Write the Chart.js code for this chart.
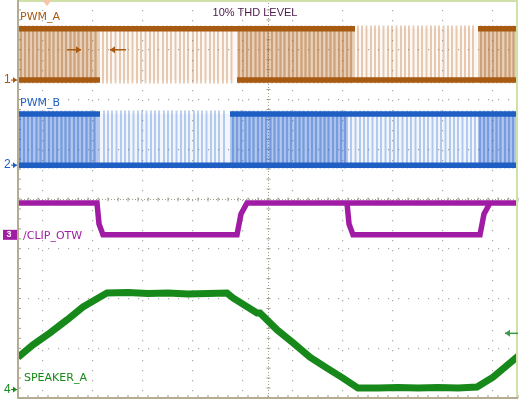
<!DOCTYPE html>
<html>
<head>
<meta charset="utf-8">
<script src="https://cdn.jsdelivr.net/npm/chart.js@4/dist/chart.umd.min.js"></script>
<style>
  html, body { margin: 0; padding: 0; background: #fff; }
  #wrap { width: 519px; height: 402px; }
</style>
</head>
<body>
<div id="wrap"><canvas id="scope"></canvas></div>
<script>
// screen is 10 x 8 divisions, all values below are in divisions

// PWM_A (ch1)
var pwmA_low = 6.39, pwmA_high = 7.42;
var pwmA_dense = [[0, 1.64], [4.38, 6.74], [9.2, 10]];
var pwmA_light = [[1.64, 4.38], [6.74, 9.2]];
var pwmA_highLine = [[0, 6.74], [9.2, 10]];
var pwmA_lowLine = [[0, 1.64], [4.38, 10]];
var pwmA_pulses = [1.7, 1.78, 1.86, 1.95, 2.04, 2.12, 2.2, 2.29, 2.38, 2.46, 2.55, 2.64, 2.72, 2.8, 2.9, 2.98, 3.06, 3.15, 3.24, 3.32, 3.4, 3.5, 3.58, 3.66, 3.75, 3.84, 3.92, 4.0, 4.1, 4.18, 4.27,
  6.8, 6.88, 6.97, 7.06, 7.14, 7.22, 7.31, 7.4, 7.48, 7.57, 7.66, 7.74, 7.82, 7.91, 8.0, 8.08, 8.17, 8.26, 8.34, 8.42, 8.51, 8.6, 8.68, 8.77, 8.86, 8.94, 9.02, 9.1];
var pwmA_densePulses = [0.06, 0.14, 0.22, 0.3, 0.38, 0.46, 0.55, 0.63, 0.71, 0.8, 0.88, 0.96, 1.05, 1.13, 1.21, 1.3, 1.38, 1.46, 1.55,
  4.42, 4.5, 4.58, 4.66, 4.75, 4.83, 4.92, 5.0, 5.08, 5.17, 5.25, 5.33, 5.42, 5.5, 5.58, 5.67, 5.75, 5.83, 5.92, 6.0, 6.08, 6.17, 6.25, 6.33, 6.42, 6.5, 6.58, 6.66,
  9.26, 9.34, 9.42, 9.5, 9.58, 9.66, 9.75, 9.83, 9.91];

// PWM_B (ch2)
var pwmB_low = 4.68, pwmB_high = 5.71;
var pwmB_dense = [[0, 1.64], [4.24, 6.6], [9.2, 10]];
var pwmB_light = [[1.64, 4.24], [6.6, 9.2]];
var pwmB_highLine = [[0, 1.64], [4.24, 10]];
var pwmB_lowLine = [[0, 10]];
var pwmB_pulses = [1.72, 1.8, 1.88, 1.97, 2.06, 2.14, 2.22, 2.31, 2.4, 2.48, 2.57, 2.66, 2.74, 2.82, 2.92, 3.0, 3.08, 3.17, 3.26, 3.34, 3.42, 3.52, 3.6, 3.68, 3.77, 3.86, 3.94, 4.02, 4.12,
  6.66, 6.75, 6.84, 6.92, 7.0, 7.09, 7.18, 7.26, 7.35, 7.44, 7.52, 7.6, 7.69, 7.78, 7.86, 7.95, 8.04, 8.12, 8.2, 8.29, 8.38, 8.46, 8.55, 8.64, 8.72, 8.8, 8.89, 8.98, 9.06, 9.14];
var pwmB_densePulses = [0.04, 0.12, 0.2, 0.28, 0.37, 0.45, 0.53, 0.62, 0.7, 0.78, 0.87, 0.95, 1.03, 1.12, 1.2, 1.28, 1.37, 1.45, 1.53,
  4.3, 4.38, 4.46, 4.55, 4.63, 4.71, 4.8, 4.88, 4.96, 5.05, 5.13, 5.21, 5.3, 5.38, 5.46, 5.55, 5.63, 5.71, 5.8, 5.88, 5.96, 6.05, 6.13, 6.21, 6.3, 6.38, 6.46, 6.54,
  9.24, 9.32, 9.4, 9.49, 9.57, 9.65, 9.74, 9.82, 9.9];

// /CLIP_OTW (ch3)
var clipX = [0, 1.58, 1.62, 1.70, 4.38, 4.46, 4.58, 10];
var clipY = [3.92, 3.92, 3.5, 3.28, 3.28, 3.7, 3.92, 3.92];
var clipX2 = [6.58, 6.62, 6.70, 9.24, 9.32, 9.44];
var clipY2 = [3.92, 3.5, 3.28, 3.28, 3.7, 3.92];

// SPEAKER_A (ch4)
var spkX = [0, 0.3, 0.64, 0.98, 1.3, 1.64, 1.78, 2.2, 2.6, 3.0, 3.4, 3.8, 4.18, 4.3, 4.78, 4.84, 5.18, 5.5, 5.84, 6.18, 6.5, 6.8, 7.2, 7.6, 8.0, 8.4, 8.8, 9.18, 9.5, 10];
var spkY = [0.82, 1.07, 1.31, 1.57, 1.83, 2.03, 2.11, 2.12, 2.1, 2.11, 2.09, 2.1, 2.11, 2.01, 1.71, 1.71, 1.37, 1.11, 0.82, 0.6, 0.4, 0.2, 0.2, 0.21, 0.2, 0.21, 0.2, 0.22, 0.42, 0.84];

// channel ground markers
var markerLevels = [6.39, 4.68, 3.28, 0.17];
var markerText = ['1', '2', '3', '4'];

var colA = '#a65a12', colB = '#1f5fc4', colC = '#a01ca4', colD = '#17891a';

function pts(xs, ys) { return xs.map(function (x, i) { return { x: x, y: ys[i] }; }); }

function segLine(segs, level) {
  var out = [];
  segs.forEach(function (s, i) {
    if (i > 0) out.push({ x: s[0], y: null });
    out.push({ x: s[0], y: level }, { x: s[1], y: level });
  });
  return out;
}

function fillSets(segs, low, high, color) {
  return segs.map(function (s) {
    return { type: 'line', data: [{ x: s[0], y: high }, { x: s[1], y: high }], borderWidth: 0,
      pointRadius: 0, fill: { value: low }, backgroundColor: color, order: 5 };
  });
}

function pulseSet(xs, low, high, color, w) {
  return { type: 'bar', data: xs.map(function (x) { return { x: x, y: [low - 0.06, high + 0.06] }; }),
    backgroundColor: color, barThickness: w, grouped: false, order: 4 };
}

function thick(data, color, w) {
  return { type: 'line', data: data, borderColor: color, borderWidth: w, pointRadius: 0,
    fill: false, spanGaps: false, tension: 0, order: 1 };
}

var datasets = []
  .concat(fillSets(pwmA_dense, pwmA_low, pwmA_high, 'rgba(185,115,45,0.32)'))
  .concat(fillSets(pwmA_light, pwmA_low, pwmA_high, 'rgba(225,165,110,0.08)'))
  .concat(fillSets(pwmB_dense, pwmB_low, pwmB_high, 'rgba(40,100,205,0.36)'))
  .concat(fillSets(pwmB_light, pwmB_low, pwmB_high, 'rgba(90,140,220,0.08)'))
  .concat([
    pulseSet(pwmA_densePulses, pwmA_low, pwmA_high, 'rgba(165,90,25,0.4)', 1.6),
    pulseSet(pwmB_densePulses, pwmB_low, pwmB_high, 'rgba(30,90,200,0.4)', 1.6),
    pulseSet(pwmA_pulses, pwmA_low, pwmA_high, 'rgba(185,110,45,0.35)', 1.3),
    pulseSet(pwmB_pulses, pwmB_low, pwmB_high, 'rgba(55,115,210,0.35)', 1.3),
    thick(segLine(pwmA_highLine, pwmA_high), colA, 5.5),
    thick(segLine(pwmA_lowLine, pwmA_low), colA, 5.5),
    thick(segLine(pwmB_highLine, pwmB_high), colB, 5.5),
    thick(segLine(pwmB_lowLine, pwmB_low), colB, 5.5),
    thick(pts(clipX, clipY), colC, 5.5),
    thick(pts(clipX2, clipY2), colC, 5.5),
    thick(pts(spkX, spkY), colD, 7)
  ]);

var scopeDecor = {
  id: 'scopeDecor',
  beforeDatasetsDraw: function (chart) {
    var c = chart.ctx, xs = chart.scales.x, ys = chart.scales.y, a = chart.chartArea;
    c.save();
    // center cross with minor ticks
    var cx = Math.round(xs.getPixelForValue(5)) + 0.5, cy = Math.round(ys.getPixelForValue(4)) + 0.5;
    c.strokeStyle = '#a0a090';
    c.lineWidth = 1;
    c.setLineDash([1, 2]);
    c.beginPath();
    c.moveTo(cx, a.top); c.lineTo(cx, a.bottom);
    c.moveTo(a.left, cy); c.lineTo(a.right, cy);
    c.stroke();
    c.setLineDash([]);
    c.beginPath();
    for (var i = 0; i <= 50; i++) {
      var px = xs.getPixelForValue(i * 0.2);
      c.moveTo(px, cy - 2); c.lineTo(px, cy + 2);
      c.moveTo(px, a.bottom); c.lineTo(px, a.bottom - 3);
    }
    for (var j = 0; j <= 40; j++) {
      var py = ys.getPixelForValue(j * 0.2);
      c.moveTo(cx - 2, py); c.lineTo(cx + 2, py);
      c.moveTo(a.left, py); c.lineTo(a.left + 3, py);
    }
    c.stroke();
    c.restore();
  },
  afterDraw: function (chart) {
    var c = chart.ctx, xs = chart.scales.x, ys = chart.scales.y, a = chart.chartArea;
    c.save();
    // frame
    c.lineWidth = 2;
    c.strokeStyle = '#cfe0a8';
    c.beginPath();
    c.moveTo(a.left, a.top + 1); c.lineTo(a.right - 1, a.top + 1); c.lineTo(a.right - 1, a.bottom);
    c.stroke();
    c.strokeStyle = '#b4ab90';
    c.beginPath();
    c.moveTo(a.left, a.top); c.lineTo(a.left, a.bottom); c.lineTo(a.right, a.bottom);
    c.stroke();

    // labels
    c.font = '11px "DejaVu Sans", "Liberation Sans", sans-serif';
    c.textBaseline = 'middle';
    c.textAlign = 'left';
    c.fillStyle = colA; c.fillText('PWM_A', 20, 17);
    c.fillStyle = colB; c.fillText('PWM_B', 20, 103);
    c.fillStyle = colC; c.fillText('/CLIP_OTW', 23, 236);
    c.fillStyle = colD; c.fillText('SPEAKER_A', 24, 378);
    c.fillStyle = '#4a1848';
    c.textAlign = 'center';
    c.font = '11px "Liberation Sans", Arial, sans-serif';
    c.fillText('10% THD LEVEL', xs.getPixelForValue(4.74), 13);

    // channel markers on the left
    var mcol = [colA, colB, colC, colD];
    c.font = '12px "Liberation Sans", Arial, sans-serif';
    markerLevels.forEach(function (lv, k) {
      var py = ys.getPixelForValue(lv);
      c.fillStyle = mcol[k];
      c.strokeStyle = mcol[k];
      if (k === 2) {
        c.fillRect(3, py - 5, 14, 10);
        c.fillStyle = '#fff';
        c.textAlign = 'center';
        c.font = 'bold 9px "Liberation Sans", Arial, sans-serif';
        c.fillText('3', 9, py);
        c.font = '12px "Liberation Sans", Arial, sans-serif';
      } else {
        c.textAlign = 'left';
        c.fillText(markerText[k], 4, py);
        c.beginPath();
        c.moveTo(17, py); c.lineTo(13, py - 3); c.lineTo(13, py + 3); c.closePath(); c.fill();
        c.lineWidth = 1;
        c.beginPath(); c.moveTo(11, py); c.lineTo(17, py); c.stroke();
      }
    });

    // arrows
    function arrow(x1, x2, y, col) {
      c.strokeStyle = col; c.fillStyle = col; c.lineWidth = 1.5;
      c.beginPath(); c.moveTo(x1, y); c.lineTo(x2, y); c.stroke();
      var d = x2 > x1 ? -1 : 1;
      c.beginPath(); c.moveTo(x2, y); c.lineTo(x2 + d * 5, y - 3.5); c.lineTo(x2 + d * 5, y + 3.5); c.closePath(); c.fill();
    }
    var ay = ys.getPixelForValue(7.0);
    arrow(xs.getPixelForValue(0.98), xs.getPixelForValue(1.26), ay, colA);
    arrow(xs.getPixelForValue(2.16), xs.getPixelForValue(1.84), ay, colA);
    arrow(a.right, a.right - 13, ys.getPixelForValue(1.3), '#3a9a4a');

    // trigger position marker on top
    var tx = xs.getPixelForValue(0.58);
    c.fillStyle = '#f4c8a8';
    c.beginPath(); c.moveTo(tx - 5, a.top); c.lineTo(tx + 5, a.top); c.lineTo(tx, a.top + 6); c.closePath(); c.fill();
    c.restore();
  }
};

new Chart(document.getElementById('scope'), {
  type: 'line',
  data: { datasets: datasets },
  options: {
    responsive: true,
    maintainAspectRatio: false,
    animation: false,
    layout: { padding: { left: 18, right: 1, top: 0, bottom: 4 } },
    plugins: { legend: { display: false }, tooltip: { enabled: false } },
    scales: {
      x: {
        type: 'linear', min: 0, max: 10, offset: false,
        ticks: { display: false, stepSize: 1 },
        grid: { color: '#a8a8a8', lineWidth: 1.2, drawTicks: false, tickLength: 0 },
        border: { display: false, dash: [1.2, 8.8] }
      },
      y: {
        type: 'linear', min: 0, max: 8,
        ticks: { display: false, stepSize: 1 },
        grid: { color: '#a8a8a8', lineWidth: 1.2, drawTicks: false, tickLength: 0 },
        border: { display: false, dash: [1.2, 8.8] }
      }
    }
  },
  plugins: [scopeDecor]
});
</script>
</body>
</html>
